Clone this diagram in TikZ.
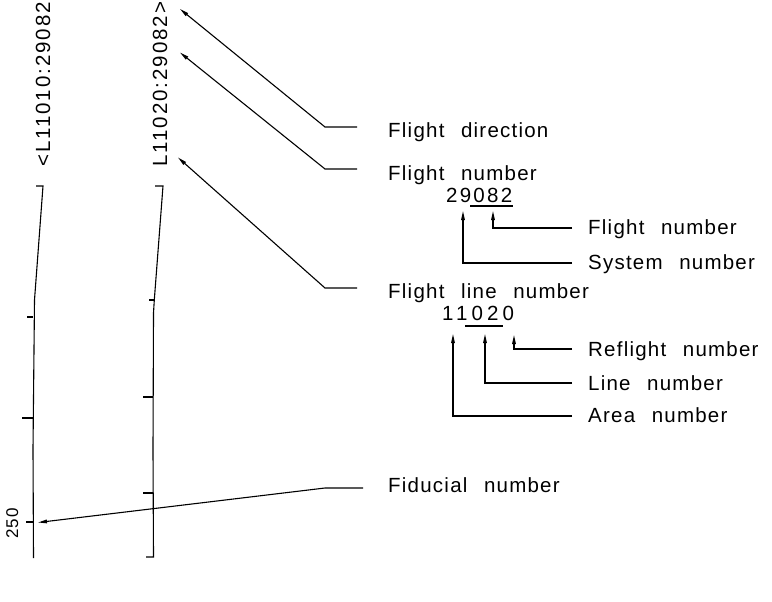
\documentclass[tikz,border=0pt]{standalone}
\usepackage{fontspec}
\setmainfont{Liberation Sans}[LetterSpace=6,WordSpace=2.4]
\usetikzlibrary{arrows.meta}
\begin{document}
\begin{tikzpicture}[x=1pt,y=-1pt,
  ln/.style={line width=1.1pt,line join=miter},
  arr/.style={ln,-{Triangle[length=9pt,width=3.6pt]}},
  lbl/.style={anchor=base west,inner sep=0pt,font=\fontsize{20.5}{24}\selectfont},
  vlbl/.style={anchor=base west,inner sep=0pt,rotate=90,font=\fontsize{20.5}{24}\selectfont\addfontfeature{LetterSpace=9.5}},
  small/.style={anchor=base west,inner sep=0pt,rotate=90,font=\fontsize{17}{20}\selectfont\addfontfeature{LetterSpace=8}}]
\useasboundingbox (0,0) rectangle (772,602);

% rotated line labels
\node[vlbl] (t1) at (50,167) {<L11010:29082};
\node[vlbl] (t2) at (167,167) {L11020:29082>};
\node[small] (t250) at (18,539) {250};

% flight line 1
\draw[ln] (36,186) -- (43,186) -- (34.5,300) -- (33,449) -- (33.5,558);
\draw[ln] (27,317) -- (33.3,317);
\draw[ln] (22,418) -- (33,418);
\draw[ln] (26,522) -- (33,522);
\coordinate (fid) at (38,522.5);

% flight line 2
\draw[ln] (155,186) -- (163,186) -- (154.3,300) -- (153.5,313) -- (153,450) -- (153.5,557) -- (146,557);
\draw[ln] (149,300) -- (154.3,300);
\draw[ln] (143,397) -- (153.2,397);
\draw[ln] (143,493) -- (153.2,493);

% right-hand labels
\node[lbl] (fd) at (388,137) {Flight direction};
\node[lbl] (fn) at (388,180) {Flight number};
\node[lbl,font=\fontsize{20.5}{24}\selectfont\addfontfeature{LetterSpace=11}] (n1) at (446,202) {29082};
\node[lbl] (fn2) at (588,234) {Flight number};
\node[lbl] (sn) at (588,269) {System number};
\node[lbl] (fl) at (388,298) {Flight line number};
\node[lbl,font=\fontsize{20.5}{24}\selectfont\addfontfeature{LetterSpace=20}] (n2) at (442,320) {11020};
\node[lbl] (rf) at (588,356) {Reflight number};
\node[lbl] (lnum) at (588,390) {Line number};
\node[lbl] (an) at (588,422) {Area number};
\node[lbl] (fi) at (388,492) {Fiducial number};

% underlines
\draw[ln] (470,206) -- (513,206);
\draw[ln] (465,326) -- (503,326);

% leaders to the line annotations
\coordinate (a1) at (180,9);
\coordinate (a2) at (180,52.5);
\coordinate (a3) at (178,157.5);
\draw[arr] (357,127) -- (325,127) -- (a1);
\draw[arr] (357,169) -- (325,169) -- (a2);
\draw[arr] (357,288) -- (325,288) -- (a3);
\draw[arr] (363,488) -- (325,488) -- (fid);

% digit leaders
\draw[arr] (572,228) -- (493,228) -- (493,211);
\draw[arr] (572,263) -- (463,263) -- (463,211);
\draw[arr] (572,349) -- (514,349) -- (514,335);
\draw[arr] (572,383) -- (485,383) -- (485,334);
\draw[arr] (572,416) -- (453,416) -- (453,334);
\end{tikzpicture}
\end{document}
